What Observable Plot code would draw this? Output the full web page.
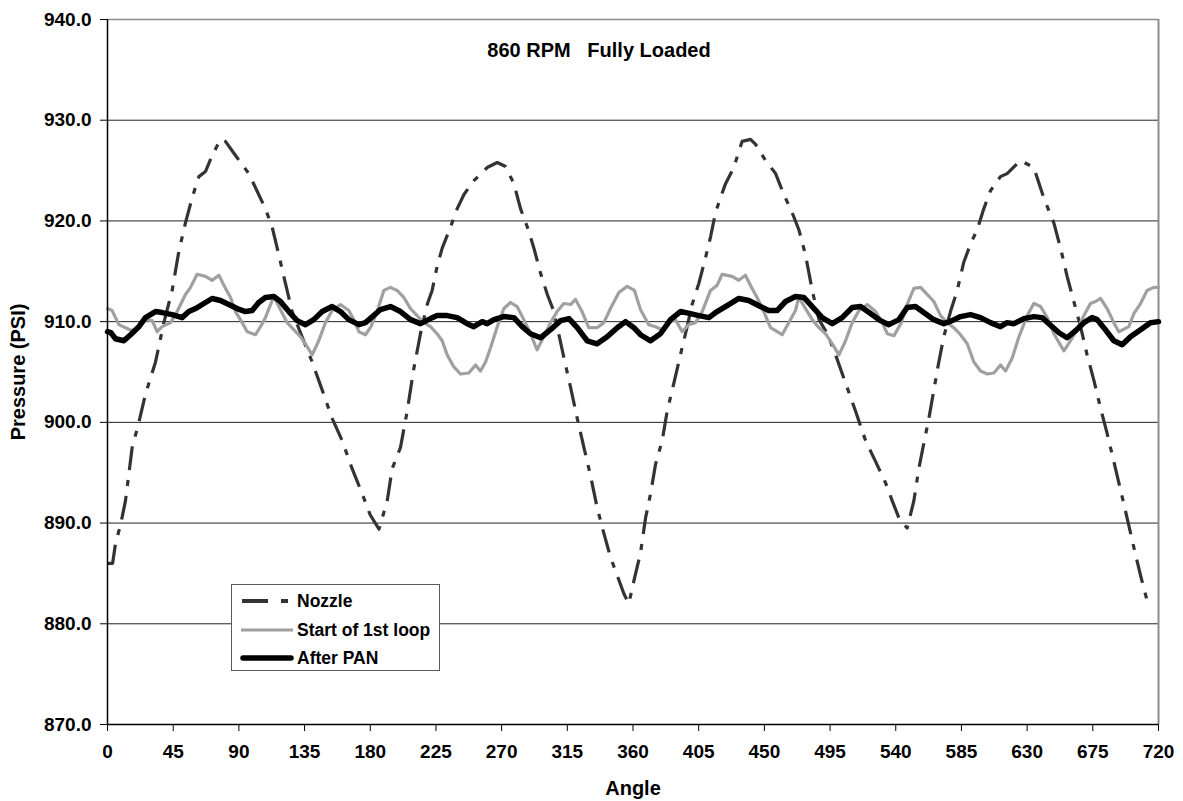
<!DOCTYPE html>
<html>
<head>
<meta charset="utf-8">
<script src="https://cdn.jsdelivr.net/npm/d3@7"></script>
<script src="https://cdn.jsdelivr.net/npm/@observablehq/plot@0.6"></script>
<style>
  body { margin: 0; background: #fff; }
  #chart { position: relative; width: 1183px; height: 801px; font-family: "Liberation Sans", Arial, sans-serif; }
  #legend {
    position: absolute; left: 231px; top: 584px; width: 209px; height: 87px;
    background: #fff; border: 1px solid #5a5a5a; box-sizing: border-box;
  }
  #legend .row { position: absolute; left: 0; height: 20px; display: flex; align-items: center; }
  #legend svg { width: 65px; height: 20px; }
  #legend span { font-weight: bold; font-size: 17.5px; color: #000; white-space: nowrap; }
</style>
</head>
<body>
<div id="chart">
  <div id="legend"></div>
</div>
<script>
// Crank angle (degrees) and pressure (PSI) for each measuring point
const nozzleAngle = [0, 3.5, 5.5, 8.9, 12.3, 16.9, 21.5, 26, 32.9, 38.6, 44.3, 48.9, 53.4, 58, 62.6, 67.1, 71.7, 77.4, 80.8, 87.7, 96.8, 101.4, 108.2, 112.8, 117.4, 121.9, 126.5, 133.3, 140.2, 147.1, 153.9, 160.7, 167.6, 174.5, 180, 186, 191.6, 195, 200.7, 205.3, 209.8, 214.4, 219, 222.4, 225.8, 229.3, 235, 239.5, 244.1, 251, 260.1, 267, 272.7, 278.4, 283, 287.6, 292.1, 296.7, 301.3, 305.8, 312.7, 317.2, 321.8, 326.4, 330.9, 335.5, 340, 344.6, 349.2, 353.7, 357.1, 361, 365.1, 368.6, 372, 375.4, 380, 383.4, 388, 392.5, 397.1, 400.5, 405.1, 409.6, 413.1, 416.5, 419.9, 423.4, 429.1, 432.5, 434.8, 440.5, 444, 450.8, 457.7, 463.4, 469.1, 473.7, 478.2, 482.8, 487.4, 493.1, 498.8, 505.6, 512.5, 519.3, 526.2, 533, 537.6, 542.2, 547.8, 552.4, 555.8, 559.2, 562.7, 566.1, 569.5, 572.9, 577.5, 582.1, 586.6, 591.2, 595.7, 600.3, 604.9, 611.7, 616.3, 625.4, 634.6, 641.4, 648.3, 652.9, 657.4, 662, 666.6, 671.1, 675.7, 680.3, 684.8, 689.4, 694, 698.5, 703.1, 707.7, 712.2, 714];
const nozzlePsi = [886.0, 886.0, 888.0, 889.8, 892.2, 897.5, 900.0, 902.8, 906.0, 909.9, 913.1, 917.0, 919.8, 922.3, 924.4, 924.9, 926.5, 928.1, 927.9, 926.5, 924.7, 923.3, 921.2, 919.4, 916.6, 913.8, 911.0, 908.5, 906.0, 903.2, 900.4, 898.2, 895.4, 892.9, 890.8, 889.4, 892.2, 895.4, 897.5, 901.1, 905.3, 908.8, 911.7, 913.1, 915.5, 917.3, 919.4, 921.2, 922.6, 924.0, 925.3, 925.8, 925.4, 923.7, 921.2, 919.4, 917.3, 914.8, 912.7, 911.0, 906.4, 903.5, 900.4, 897.5, 894.7, 891.5, 889.0, 886.6, 884.8, 883.0, 882.0, 884.5, 887.0, 890.5, 892.9, 895.8, 898.2, 901.1, 903.9, 906.7, 909.5, 911.7, 913.8, 916.3, 918.4, 920.8, 922.3, 923.7, 925.3, 926.9, 927.9, 928.1, 927.6, 926.0, 924.7, 922.6, 920.8, 919.1, 916.6, 913.1, 910.2, 908.8, 906.7, 903.9, 901.1, 898.2, 896.1, 894.0, 892.2, 890.5, 889.5, 892.2, 895.4, 897.9, 900.4, 903.2, 906.0, 908.5, 911.0, 913.1, 915.9, 917.7, 919.1, 921.2, 923.0, 924.4, 924.7, 926.0, 925.3, 922.3, 919.8, 917.3, 914.5, 912.0, 909.5, 906.7, 904.2, 901.4, 898.9, 896.1, 893.3, 890.5, 887.6, 884.8, 882.3, 882.0];

const loopAngle = [0, 3.2, 7.8, 12.3, 16.9, 21.5, 26, 30.6, 34, 37.4, 43.2, 47.7, 53.4, 56.9, 61.4, 67.1, 71.7, 76.3, 80.8, 84.3, 87.7, 92.3, 95.7, 101.4, 104.8, 108.2, 111.7, 114, 117.4, 123.1, 127.6, 132.2, 135.6, 140.2, 144.7, 149.3, 153.9, 159.6, 165.3, 168.7, 172.2, 176.7, 180.5, 184.7, 189.3, 193.8, 198.4, 203, 207.6, 212.1, 216.7, 221.3, 225.8, 229.3, 232.7, 237.3, 241.8, 247.5, 252.1, 255.5, 259, 262.4, 267, 271.5, 276.1, 280.6, 285.2, 289.8, 294.3, 298.9, 303.5, 308, 312.6, 317.2, 320.6, 325.1, 329.7, 335.4, 340, 344.6, 350.3, 356, 361, 365.1, 370.8, 375.4, 380, 384.5, 389.1, 393.7, 398.2, 402.8, 407.4, 413.1, 417.6, 421, 427.9, 432.5, 437, 441.6, 445, 449.6, 454.2, 462.2, 466.7, 471.3, 473.6, 478.2, 482.8, 487.4, 491.9, 496.5, 501.1, 505.6, 510.2, 514.8, 520.5, 526.2, 530.8, 534.2, 538.8, 543.8, 547.8, 552.4, 557, 561.5, 566.1, 570.7, 575.2, 579.8, 584.4, 589, 593.5, 598.1, 602.7, 607.2, 611.8, 615.2, 619.8, 624.4, 630.1, 634.6, 639.2, 643.8, 648.3, 655.2, 659.7, 664.3, 668.9, 673.4, 676.9, 680.3, 684.8, 689.4, 692.8, 699.7, 703.1, 707.7, 712.2, 716.8, 720];
const loopPsi = [911.3, 911.1, 909.7, 909.4, 909.1, 909.5, 910.2, 910.1, 909.0, 909.5, 909.9, 911.0, 912.7, 913.4, 914.7, 914.5, 914.1, 914.6, 913.3, 912.4, 911.0, 909.9, 909.0, 908.7, 909.5, 910.4, 911.7, 912.5, 911.5, 909.9, 909.2, 908.5, 907.8, 906.7, 908.1, 909.9, 911.1, 911.7, 911.1, 910.2, 909.0, 908.7, 909.5, 911.0, 913.1, 913.4, 913.1, 912.4, 911.3, 910.6, 909.9, 909.5, 908.8, 908.1, 906.7, 905.5, 904.8, 904.9, 905.7, 905.1, 906.0, 907.4, 909.5, 911.3, 911.9, 911.5, 910.2, 908.8, 907.2, 908.5, 909.9, 911.0, 911.8, 911.7, 912.2, 911.0, 909.4, 909.4, 909.9, 911.3, 912.9, 913.5, 913.1, 911.2, 909.7, 909.5, 909.2, 909.9, 910.2, 909.0, 909.7, 909.9, 911.0, 913.1, 913.6, 914.7, 914.5, 914.1, 914.6, 913.3, 912.4, 911.0, 909.4, 908.7, 909.9, 911.1, 912.4, 911.3, 910.2, 909.4, 908.8, 907.8, 906.7, 908.1, 909.9, 911.1, 911.7, 911.0, 909.9, 908.8, 908.6, 909.9, 911.7, 913.3, 913.4, 912.7, 912.0, 910.6, 909.9, 909.4, 908.7, 907.8, 906.0, 905.1, 904.8, 904.9, 905.7, 905.1, 906.4, 908.5, 910.6, 911.8, 911.5, 910.4, 908.8, 907.1, 908.1, 909.2, 910.6, 911.8, 912.0, 912.3, 911.3, 909.9, 909.0, 909.5, 910.8, 911.8, 913.1, 913.4, 913.4];

const panAngle = [0, 2.3, 5.5, 11.2, 15.8, 21.5, 26, 32.9, 37.4, 44.3, 51.1, 55.7, 60.3, 66, 71.7, 77.4, 83.1, 88.8, 94.5, 99.1, 103.6, 108.2, 114, 118.5, 124.2, 129.9, 135.6, 141.3, 147.1, 153.9, 159.6, 165.3, 172.2, 176.7, 181.5, 187, 193.8, 200.7, 207.6, 214.4, 221.3, 225.8, 232.7, 239.5, 246.4, 250.9, 256.7, 260.1, 264.7, 271.5, 278.4, 284.1, 289.8, 296.7, 303.5, 310.4, 316.1, 321.8, 328.6, 335.4, 342.3, 349.2, 354.9, 360.6, 365.1, 372, 378.8, 385.7, 392.5, 399.4, 405.1, 412, 417.6, 425.6, 432.5, 439.3, 447.3, 453, 458.7, 464.5, 471.3, 477, 482.8, 489.6, 496.5, 503.3, 510.2, 515.9, 522.7, 529.6, 535.3, 542.2, 547.8, 553.5, 559.2, 566.1, 572.9, 578.6, 584.4, 591.2, 598.1, 604.9, 611.7, 616.3, 620.9, 627.8, 634.6, 640.3, 647.2, 651.8, 657.4, 663.2, 668.9, 674.5, 678, 682.5, 689.4, 695.1, 700.8, 707.7, 714.5, 720];
const panPsi = [909.0, 908.9, 908.3, 908.1, 908.7, 909.5, 910.4, 911.0, 910.9, 910.7, 910.4, 911.0, 911.3, 911.8, 912.3, 912.1, 911.7, 911.3, 911.0, 911.1, 911.9, 912.4, 912.5, 912.0, 911.0, 910.1, 909.7, 910.2, 911.0, 911.5, 911.0, 910.2, 909.7, 909.9, 910.5, 911.2, 911.5, 911.0, 910.2, 909.8, 910.3, 910.6, 910.6, 910.4, 909.8, 909.5, 910.0, 909.8, 910.2, 910.5, 910.4, 909.5, 908.8, 908.4, 909.2, 910.1, 910.3, 909.4, 908.1, 907.8, 908.5, 909.4, 910.0, 909.4, 908.7, 908.1, 908.8, 910.2, 911.0, 910.8, 910.6, 910.4, 911.0, 911.7, 912.3, 912.1, 911.5, 911.1, 911.1, 912.0, 912.5, 912.4, 911.5, 910.4, 909.8, 910.4, 911.4, 911.5, 910.8, 910.1, 909.7, 910.2, 911.4, 911.5, 910.9, 910.2, 909.8, 910.1, 910.5, 910.7, 910.4, 909.9, 909.5, 909.9, 909.8, 910.3, 910.5, 910.4, 909.5, 908.9, 908.4, 909.1, 909.9, 910.4, 910.2, 909.4, 908.1, 907.7, 908.5, 909.2, 909.9, 910.0];

const seriesNames = ["Nozzle", "Start of 1st loop", "After PAN"];
const xTicks = d3.range(0, 721, 45);
const yTicks = d3.range(870, 941, 10);
const chartTitle = "860 RPM   Fully Loaded";

const toRows = (angles, values) => angles.map((a, i) => ({angle: a, psi: values[i]}));
const nozzle = toRows(nozzleAngle, nozzlePsi);
const loop1 = toRows(loopAngle, loopPsi);
const pan = toRows(panAngle, panPsi);

const font = '"Liberation Sans", Arial, sans-serif';
const nozzleDash = "24,10,6,10";

const plot = Plot.plot({
  width: 1183,
  height: 801,
  marginLeft: 107,
  marginRight: 25,
  marginTop: 19,
  marginBottom: 77,
  style: {fontFamily: font, fontSize: "19px", fontWeight: "bold", color: "#000", background: "#fff"},
  x: {domain: [0, 720]},
  y: {domain: [870, 940]},
  marks: [
    // horizontal gridlines and the gray frame on top / right
    Plot.ruleY(yTicks.filter(v => v > 870 && v < 940), {stroke: "#222", strokeWidth: 1}),
    Plot.ruleY([940], {stroke: "#8c8c8c", strokeWidth: 1.5}),
    Plot.ruleX([720], {stroke: "#8c8c8c", strokeWidth: 2}),
    // series
    Plot.line(nozzle, {x: "angle", y: "psi", stroke: "#333", strokeWidth: 3.2, strokeDasharray: nozzleDash, strokeLinecap: "butt"}),
    Plot.line(loop1, {x: "angle", y: "psi", stroke: "#a0a0a0", strokeWidth: 3.2}),
    Plot.line(pan, {x: "angle", y: "psi", stroke: "#000", strokeWidth: 5.5}),
    // axis lines
    Plot.ruleX([0], {stroke: "#000", strokeWidth: 1.5}),
    Plot.ruleY([870], {stroke: "#000", strokeWidth: 1.5}),
    Plot.axisY({ticks: yTicks, tickSize: 7, tickPadding: 9, tickFormat: d3.format(".1f"), label: null}),
    Plot.axisX({ticks: xTicks, tickSize: 7, tickPadding: 13, tickFormat: d => String(d), label: null}),
    // titles
    Plot.text([chartTitle], {text: d => d, frameAnchor: "top", dx: -34, dy: 31, lineAnchor: "middle", textAnchor: "middle", fontSize: 20, fontWeight: "bold"}),
    Plot.text(["Pressure (PSI)"], {text: d => d, frameAnchor: "left", dx: -89, rotate: -90, textAnchor: "middle", lineAnchor: "middle", fontSize: 20, fontWeight: "bold"}),
    Plot.text(["Angle"], {text: d => d, frameAnchor: "bottom", dy: 64, textAnchor: "middle", lineAnchor: "middle", fontSize: 20, fontWeight: "bold"})
  ]
});

const chart = document.getElementById("chart");
chart.insertBefore(plot, chart.firstChild);

// legend box drawn over the plot area
const legend = document.getElementById("legend");
const samples = [
  `<line x1="10" y1="10" x2="36" y2="10" stroke="#333" stroke-width="4"/><line x1="49" y1="10" x2="56" y2="10" stroke="#333" stroke-width="4"/>`,
  `<line x1="9" y1="10" x2="61" y2="10" stroke="#a0a0a0" stroke-width="3"/>`,
  `<line x1="11" y1="10" x2="59" y2="10" stroke="#000" stroke-width="5.5" stroke-linecap="round"/>`
];
const rowTops = [6, 35, 63];
seriesNames.forEach((name, i) => {
  const row = document.createElement("div");
  row.className = "row";
  row.style.top = rowTops[i] + "px";
  row.innerHTML = `<svg viewBox="0 0 65 20">${samples[i]}</svg><span>${name}</span>`;
  legend.appendChild(row);
});
</script>
</body>
</html>
